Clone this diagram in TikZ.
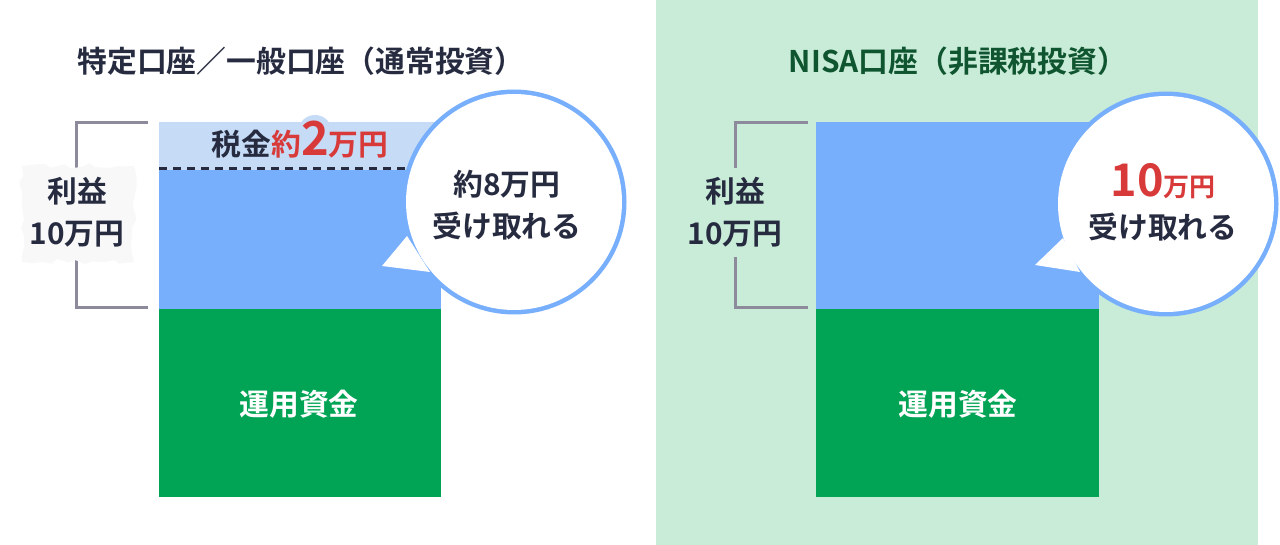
\documentclass[tikz,border=0pt]{standalone}
\usepackage{fontspec}
\usetikzlibrary{decorations.pathmorphing}
\setmainfont{Noto Sans CJK JP}[BoldFont={Noto Sans CJK JP Bold}]
\definecolor{ink}{HTML}{262B40}
\definecolor{taxred}{HTML}{D83A3A}
\definecolor{taxblue}{HTML}{C5DBF6}
\definecolor{gainblue}{HTML}{78AFFC}
\definecolor{fundgreen}{HTML}{00A454}
\definecolor{nisabg}{HTML}{C9ECD8}
\definecolor{nisagreen}{HTML}{0F5530}
\definecolor{bracketgray}{HTML}{8D8B9B}
\definecolor{blobgray}{HTML}{F8F8F8}
\begin{document}
\begin{tikzpicture}[x=1pt, y=-1pt,
  lbl/.style={font=\fontsize{29.8}{42}\selectfont\bfseries, text=ink, align=center, inner sep=0pt},
  bracket/.style={draw=bracketgray, line width=3pt},
  bubble/.style={draw=gainblue, line width=5pt, line join=round},
  bubblefill/.style={fill=white}]
  \useasboundingbox (0,0) rectangle (1280,545);
  \fill[white] (0,0) rectangle (1280,545);

  % NISA side background
  \fill[nisabg] (656,0) rectangle (1258,545);

  % titles
  \node[lbl] (ttlA) at (301,61) {特定口座／一般口座（通常投資）};
  \node[lbl, text=nisagreen] (ttlB) at (958,61) {NISA口座（非課税投資）};

  % left bar
  \fill[taxblue] (159,122) rectangle (441,170);
  \fill[taxblue] (315,132) circle (17);
  \fill[gainblue] (159,170) rectangle (441,309);
  \fill[fundgreen] (159,309) rectangle (441,497);
  \draw[ink, line width=3pt, dash pattern=on 8pt off 6pt] (159,169) -- (420,169);
  \node[lbl, anchor=base] (tax) at (300,156)
    {税金\textcolor{taxred}{約{\fontsize{47}{47}\selectfont 2}万円}};
  \node[lbl, text=white] (fundA) at (299,404) {運用資金};

  % right bar
  \fill[gainblue] (816,122) rectangle (1099,309);
  \fill[fundgreen] (816,309) rectangle (1099,497);
  \node[lbl, text=white] (fundB) at (958,404) {運用資金};

  % brackets
  \draw[bracket] (148,123) -| (76,168);
  \draw[bracket] (76,257) |- (148,308);
  \fill[blobgray, decorate, decoration={random steps, segment length=9pt, amplitude=3pt}]
    (22,166) rectangle (134,262);
  \node[lbl] (gainA) at (77,212) {利益\\10万円};
  \draw[bracket] (808,123) -| (735,168);
  \draw[bracket] (735,257) |- (808,308);
  \node[lbl] (gainB) at (735,212) {利益\\10万円};

  % speech bubbles
  \draw[bubble] (514,202) circle (110);
  \draw[bubble] (407,238) -- (382,266) -- (428,272);
  \fill[bubblefill] (514,202) circle (108);
  \fill[bubblefill] (407,236) -- (382,266) -- (430,272) -- cycle;
  \node[lbl] (msgA) at (507,205) {約8万円\\受け取れる};

  \draw[bubble] (1166,204) circle (110);
  \draw[bubble] (1063,240) -- (1035,265) -- (1078,272);
  \fill[bubblefill] (1166,204) circle (108);
  \fill[bubblefill] (1063,238) -- (1035,265) -- (1080,272) -- cycle;
  \node[lbl] (msgB) at (1163,202)
    {\textcolor{taxred}{{\fontsize{45}{45}\selectfont 10}{\fontsize{26}{30}\selectfont 万円}}\\受け取れる};
\end{tikzpicture}
\end{document}
